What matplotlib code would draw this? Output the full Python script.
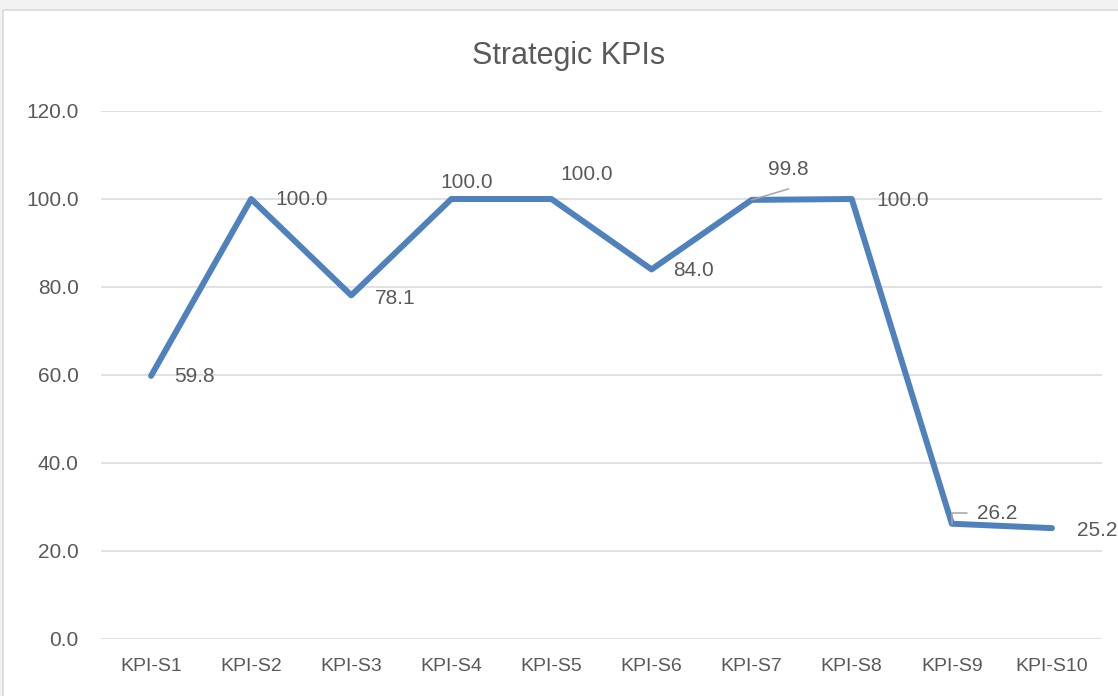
"""Strategic KPIs line chart (Excel-style look)."""

import matplotlib
matplotlib.use('Agg')
import matplotlib.pyplot as plt
from matplotlib.patches import Rectangle

# Data
categories = ['KPI-S1', 'KPI-S2', 'KPI-S3', 'KPI-S4', 'KPI-S5',
              'KPI-S6', 'KPI-S7', 'KPI-S8', 'KPI-S9', 'KPI-S10']
values = [59.8, 100.0, 78.1, 100.0, 100.0, 84.0, 99.8, 100.0, 26.2, 25.2]
y_ticks = [0, 20, 40, 60, 80, 100, 120]

# Label placement (pixel offsets from the point, horizontal alignment)
LABEL_OFFSETS = [(23, -1, 'left'), (24, -1, 'left'), (24, -3, 'left'),
                 (15, 16, 'center'), (35, 25, 'center'), (22, -1, 'left'),
                 (37, 30, 'center'), (25, -2, 'left'), (25, 10, 'left'),
                 (25, -2, 'left')]

LINE_COLOR = '#4F81BD'
TEXT_COLOR = '#595959'
GRID_COLOR = '#D9D9D9'
LEADER_COLOR = '#A6A6A6'
FONT = ['Liberation Sans', 'DejaVu Sans']

W, H = 1118, 696
fig = plt.figure(figsize=(W / 100, H / 100), dpi=100, facecolor='#F2F2F2')

# White chart area with thin border
fig.patches.append(Rectangle((3 / W, -0.01), 1.0, 1 - 10 / H + 0.01,
                             transform=fig.transFigure, facecolor='white',
                             edgecolor=GRID_COLOR, linewidth=1.2, zorder=-1))

ax = fig.add_axes([101 / W, 1 - 639 / H, 1001 / W, 528 / H])
ax.set_facecolor('none')

x = list(range(len(categories)))
ax.plot(x, values, color=LINE_COLOR, linewidth=4.3,
        solid_capstyle='round', solid_joinstyle='round', zorder=3)

ax.set_xlim(-0.5, len(categories) - 0.5)
ax.set_ylim(0, 120)
ax.set_yticks(y_ticks)
ax.set_yticklabels([f'{v:.1f}' for v in y_ticks], fontsize=15,
                   color=TEXT_COLOR, family=FONT)
ax.set_xticks(x)
ax.set_xticklabels(categories, fontsize=14, color=TEXT_COLOR, family=FONT)
ax.tick_params(axis='y', length=0, pad=16)
ax.tick_params(axis='x', length=0, pad=14)
ax.grid(axis='y', color=GRID_COLOR, linewidth=1.1, zorder=0)
ax.set_axisbelow(True)
for side in ['top', 'right', 'left', 'bottom']:
    ax.spines[side].set_visible(False)

# Data labels
for xi, v, (dx, dy, ha) in zip(x, values, LABEL_OFFSETS):
    ax.annotate(f'{v:.1f}', (xi, v), xytext=(dx, dy),
                textcoords='offset pixels', ha=ha, va='center',
                fontsize=15, color=TEXT_COLOR, family=FONT,
                annotation_clip=False, zorder=4)

# Leader lines for moved labels (KPI-S7 and KPI-S9)
ax.annotate('', (6, values[6]), xytext=(37, 11), textcoords='offset pixels',
            arrowprops=dict(arrowstyle='-', color=LEADER_COLOR, lw=1.1,
                            shrinkA=0, shrinkB=0))
ax.annotate('', (8, values[8]), xytext=(15, 11), textcoords='offset pixels',
            arrowprops=dict(arrowstyle='-', color=LEADER_COLOR, lw=1.1,
                            shrinkA=0, shrinkB=0,
                            connectionstyle='angle,angleA=0,angleB=90,rad=0'))

fig.text(569 / W, 1 - 64 / H, 'Strategic KPIs', ha='center', va='baseline',
         fontsize=22, color=TEXT_COLOR, family=FONT)

fig.savefig('out.png', dpi=100, facecolor=fig.get_facecolor())
